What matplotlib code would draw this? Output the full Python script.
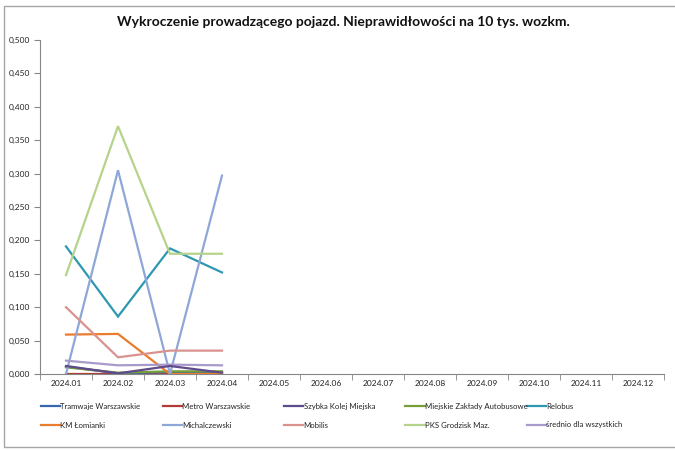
import matplotlib.pyplot as plt
from matplotlib.lines import Line2D
from matplotlib.patches import Rectangle

months = ['2024.01', '2024.02', '2024.03', '2024.04', '2024.05', '2024.06',
          '2024.07', '2024.08', '2024.09', '2024.10', '2024.11', '2024.12']

names = ['Tramwaje Warszawskie', 'Metro Warszawskie', 'Szybka Kolej Miejska',
         'Miejskie Zakłady Autobusowe', 'Relobus', 'KM Łomianki',
         'Michalczewski', 'Mobilis', 'PKS Grodzisk Maz.', 'średnio dla wszystkich']

tramwaje = [0.011, 0.001, 0.003, 0.003]
metro = [0.000, 0.000, 0.000, 0.000]
skm = [0.012, 0.001, 0.012, 0.002]
mza = [0.010, 0.002, 0.004, 0.004]
relobus = [0.191, 0.086, 0.188, 0.152]
lomianki = [0.059, 0.060, 0.000, 0.000]
michalczewski = [0.000, 0.305, 0.000, 0.297]
mobilis = [0.100, 0.025, 0.035, 0.035]
pks = [0.148, 0.371, 0.180, 0.180]
srednio = [0.020, 0.013, 0.014, 0.013]

series = [tramwaje, metro, skm, mza, relobus, lomianki,
          michalczewski, mobilis, pks, srednio]
colors = ['#3A66AE', '#B23B35', '#5F4A8B', '#77A03A', '#2E97B2',
          '#EB7B2D', '#8EA7D8', '#D9928E', '#B6D38B', '#A89ACA']
# draw order: later series on top
zorder = [3, 2, 4, 3, 3, 3, 3, 3, 3, 3]

plt.rcParams['font.family'] = ['Lato', 'DejaVu Sans']

fig = plt.figure(figsize=(6.75, 4.5), dpi=100)
ax = fig.add_axes([40 / 675, 1 - 374 / 450, 624 / 675, 334 / 450])

x = range(len(months))
for vals, name, c, z in zip(series, names, colors, zorder):
    ax.plot(list(x)[:len(vals)], vals, color=c, lw=1.6, label=name, zorder=z,
            solid_joinstyle='miter')

ax.set_xlim(-0.5, len(months) - 0.5)
ax.set_ylim(0, 0.5)
ax.set_yticks([i * 0.05 for i in range(11)])
ax.set_yticklabels([f'{i * 0.05:.3f}'.replace('.', ',') for i in range(11)],
                   fontsize=6, color='#222222')
ax.set_xticks(list(x))
ax.set_xticklabels(months, fontsize=6, color='#222222')
ax.set_xticks([i - 0.5 for i in range(len(months) + 1)], minor=True)
ax.tick_params(axis='x', which='major', length=0, pad=4)
ax.tick_params(axis='x', which='minor', length=4, color='#868686', direction='out')
ax.tick_params(axis='y', length=4, color='#868686', direction='out', pad=3)
for s in ['top', 'right']:
    ax.spines[s].set_visible(False)
for s in ['left', 'bottom']:
    ax.spines[s].set_color('#868686')
    ax.spines[s].set_linewidth(0.8)

fig.text(343 / 675, 1 - 22 / 450,
         'Wykroczenie prowadzącego pojazd. Nieprawidłowości na 10 tys. wozkm.',
         ha='center', va='center', fontsize=10, fontweight='bold', color='#111111')

# legend, 2 rows x 5 columns, row-major like the original
for i, (name, c) in enumerate(zip(names, colors)):
    row, col = divmod(i, 5)
    x0 = 41 + col * 121.5
    y0 = 406 + row * 18.5
    fig.add_artist(Line2D([x0 / 675, (x0 + 19) / 675],
                          [1 - y0 / 450, 1 - y0 / 450],
                          color=c, lw=1.6, transform=fig.transFigure))
    fig.text((x0 + 19.5) / 675, 1 - y0 / 450, name, fontsize=5.6,
             va='center_baseline', ha='left', color='#222222')

fig.add_artist(Rectangle((4 / 675, 1 - 447 / 450), 700 / 675, 441 / 450,
                         transform=fig.transFigure, fill=False,
                         edgecolor='#A6A6A6', lw=1.0))

fig.savefig('out.png', dpi=100)
